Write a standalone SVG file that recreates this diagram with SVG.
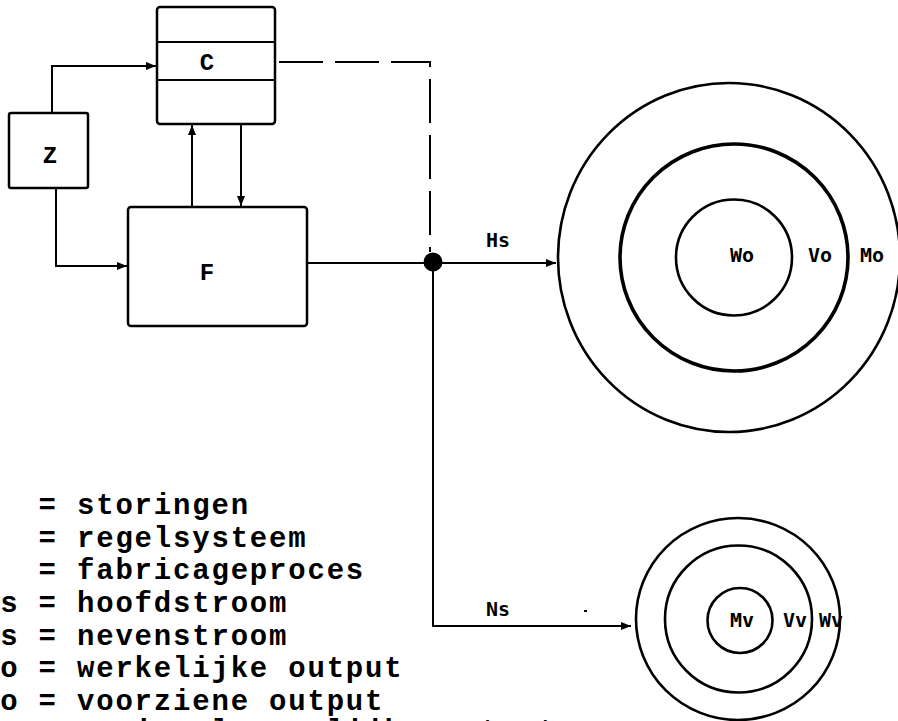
<svg xmlns="http://www.w3.org/2000/svg" width="898" height="721" viewBox="0 0 898 721">
<style>
.box{fill:#fff;stroke:#000;stroke-width:2.5}
.ring{fill:none;stroke:#000;stroke-width:2.6}
.thick{stroke-width:3.6}
.ln{fill:none;stroke:#000;stroke-width:2}
.dash{stroke-dasharray:44 12}
.lbl{font-family:"Liberation Mono",monospace;font-weight:bold;font-size:24px;fill:#000;text-anchor:middle}
.sm{font-family:"DejaVu Sans Mono","Liberation Mono",monospace;font-size:20px;fill:#000;text-anchor:middle;font-weight:bold}
.leg{font-family:"Liberation Mono","Courier New",monospace;font-weight:bold;font-size:29px;letter-spacing:1.8px;fill:#000}
</style>
<defs>
<marker id="ah" markerUnits="userSpaceOnUse" markerWidth="10" markerHeight="8" refX="10" refY="4" orient="auto">
<path d="M0,0 L10,4 L0,8 z" fill="#000"/>
</marker>
</defs>
<rect width="898" height="721" fill="#fff"/>
<g id="connectors">
<path class="ln" d="M52,113 V66 H156" marker-end="url(#ah)"/>
<path class="ln" d="M56,188 V266 H127" marker-end="url(#ah)"/>
<path class="ln" d="M192,207 V125" marker-end="url(#ah)"/>
<path class="ln" d="M241,124 V206" marker-end="url(#ah)"/>
<path class="ln" d="M307,263 H433"/>
<path class="ln dash" d="M279,62 H430 V252"/>
<path class="ln" d="M433,263 H556" marker-end="url(#ah)"/>
<path class="ln" d="M433,263 V626 H631" marker-end="url(#ah)"/>
<circle cx="433" cy="262" r="9.5" fill="#000"/>
<text class="sm" x="498" y="247">Hs</text>
<text class="sm" x="498" y="616">Ns</text>
<rect x="584" y="610" width="3" height="2" fill="#000"/>
</g>
<g id="node-C">
<rect class="box" x="157" y="7" width="118" height="117" rx="3"/>
<line class="ln" x1="157" y1="42" x2="275" y2="42"/>
<line class="ln" x1="157" y1="80" x2="275" y2="80"/>
<text class="lbl" x="207" y="70">C</text>
</g>
<g id="node-Z">
<rect class="box" x="9" y="113" width="79" height="75" rx="2"/>
<text class="lbl" x="50" y="163">Z</text>
</g>
<g id="node-F">
<rect class="box" x="128" y="207" width="179" height="119" rx="3"/>
<text class="lbl" x="207" y="280">F</text>
</g>
<g id="node-output-main">
<ellipse class="ring" cx="729" cy="257.5" rx="171" ry="174.5"/>
<ellipse class="ring thick" cx="734" cy="257.5" rx="114" ry="113.5"/>
<circle class="ring" cx="734" cy="257.5" r="58"/>
<text class="sm" x="742" y="262">Wo</text>
<text class="sm" x="820" y="262">Vo</text>
<text class="sm" x="872" y="262">Mo</text>
</g>
<g id="node-output-side">
<ellipse class="ring" cx="738" cy="619" rx="102" ry="101"/>
<circle class="ring" cx="738.5" cy="619" r="73.5"/>
<circle class="ring" cx="740" cy="620.5" r="32.5"/>
<text class="sm" x="742" y="627">Mv</text>
<text class="sm" x="795" y="627">Vv</text>
<text class="sm" x="831" y="627">Wv</text>
</g>
<g id="legend">
<text class="leg" x="-19" y="514" xml:space="preserve">Z  = storingen</text>
<text class="leg" x="-19" y="547" xml:space="preserve">C  = regelsysteem</text>
<text class="leg" x="-19" y="579" xml:space="preserve">F  = fabricageproces</text>
<text class="leg" x="-19" y="612" xml:space="preserve">Hs = hoofdstroom</text>
<text class="leg" x="-19" y="645" xml:space="preserve">Ns = nevenstroom</text>
<text class="leg" x="-19" y="677" xml:space="preserve">Wo = werkelijke output</text>
<text class="leg" x="-19" y="710" xml:space="preserve">Vo = voorziene output</text>
<text class="leg" x="-19" y="740" xml:space="preserve">Mo = maximaal mogelijke output</text>
</g>
</svg>
